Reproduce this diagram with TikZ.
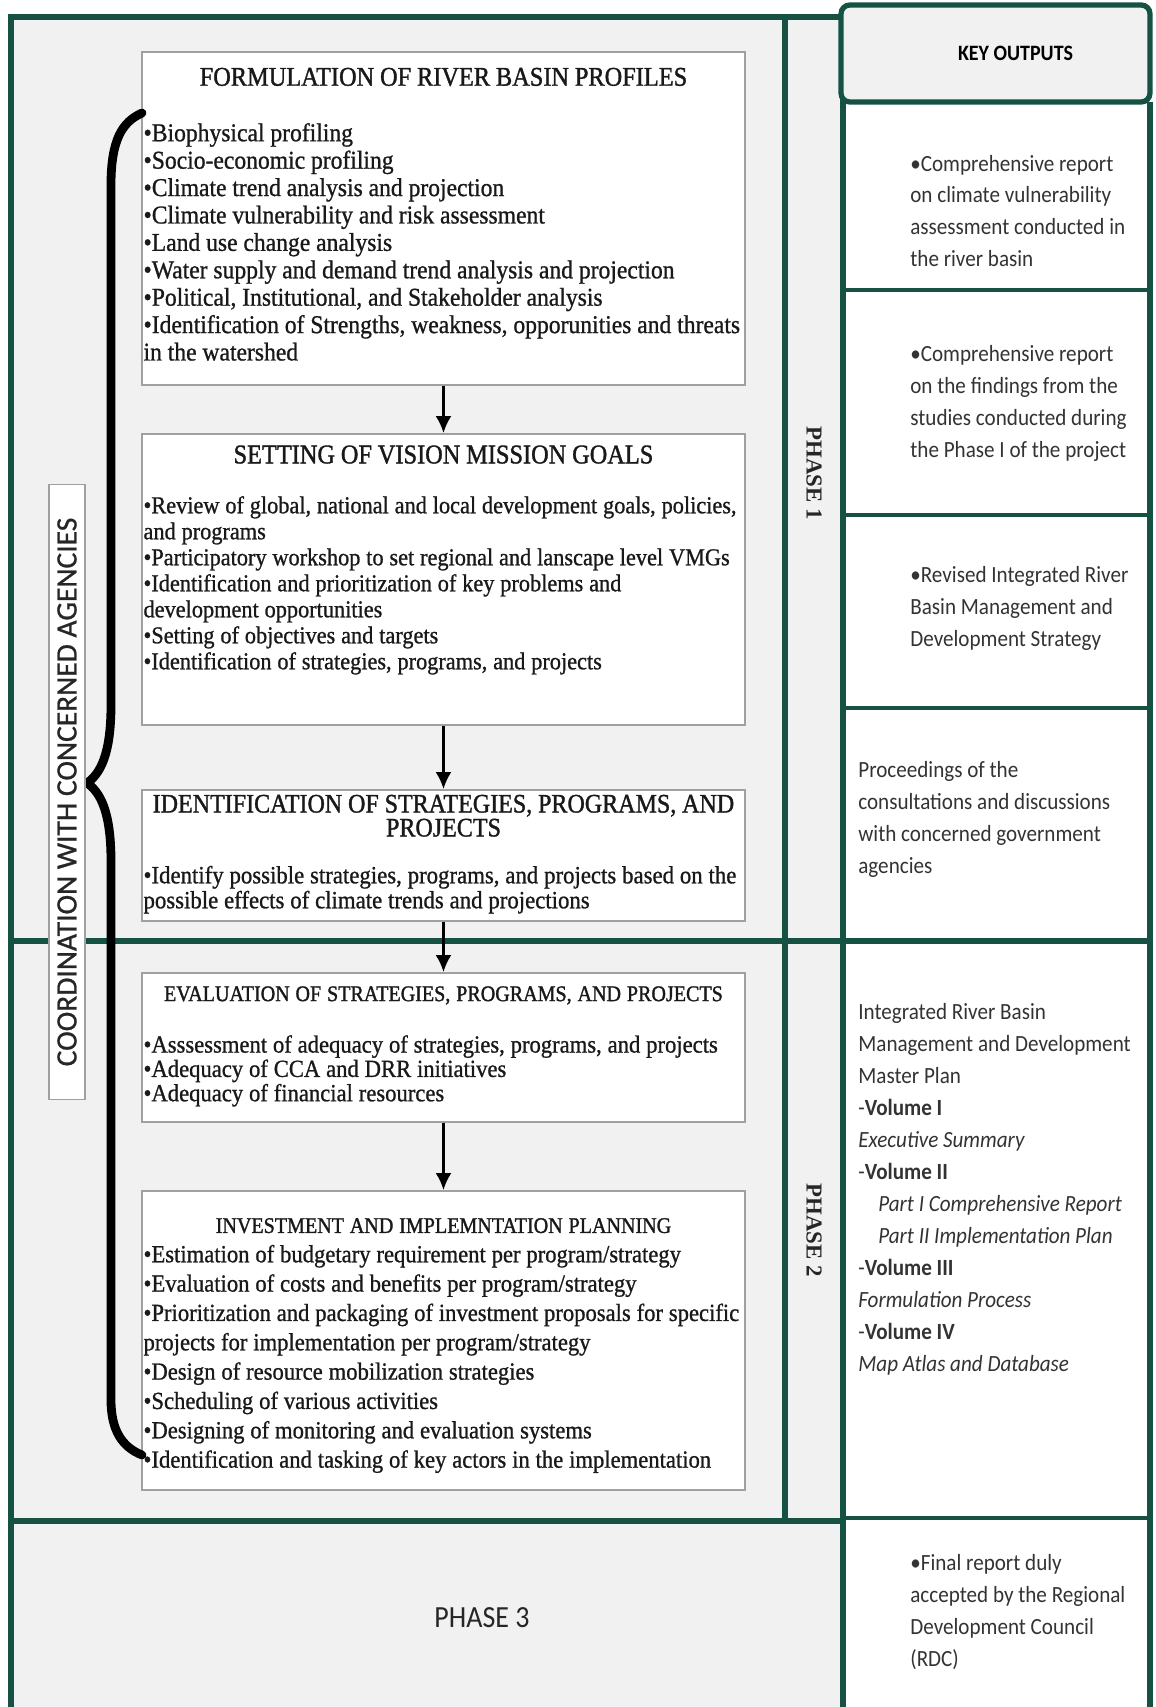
\documentclass[tikz,border=0pt]{standalone}
\usepackage{fontspec}
\usetikzlibrary{arrows.meta}
\newfontfamily\stagefont[FakeStretch=0.92, FakeBold=0.9]{Liberation Serif}
\newfontfamily\phasefont{Liberation Serif}
\newfontfamily\titlefont[FakeStretch=0.9, FakeBold=1.3]{Liberation Serif}
\newfontfamily\outfont[FakeStretch=0.91]{Carlito}
\newfontfamily\coordfont[FakeBold=0.8]{Carlito}
\definecolor{framegreen}{RGB}{22,82,68}
\definecolor{panelgray}{RGB}{241,241,241}
\definecolor{boxgray}{RGB}{160,160,160}
\setlength{\parindent}{0pt}

\begin{document}
\begin{tikzpicture}[x=0.02cm, y=-0.02cm]

    \tikzset{
      stagebox/.style={
        draw=boxgray,
        fill=white,
        line width=0.9pt,
        inner xsep=1pt,
        inner ysep=0pt,
        text width=12cm,
        text=black!90,
        anchor=north west,
      },
      outtext/.style={
        anchor=west,
        inner sep=0pt,
        align=left,
        text=black!80,
        font=\outfont\fontsize{13.2}{18.2}\selectfont,
      },
      phaselabel/.style={
        rotate=-90,
        text=black!85,
        font=\phasefont\bfseries\fontsize{13}{15}\selectfont,
      },
      frameline/.style={color=framegreen, line width=2.9pt},
      cellline/.style={color=framegreen, line width=2.2pt},
      flow/.style={color=black, line width=1.4pt, -{Latex[length=3.4mm,width=3.2mm]}},
    }
    \useasboundingbox (0,0) rectangle (1156,1707);

	\fill[panelgray] (11,17) rectangle (843,1707);
	\fill[white] (843,102) rectangle (1150,1707);
	\draw[frameline] (11,1707)--(11,17)--(843,17)--(843,1707);
	\draw[frameline] (785,17)--(785,1521);
	\draw[frameline] (11,941)--(1150,941);
	\draw[frameline] (11,1521)--(843,1521);
	\draw[frameline] (1150,102)--(1150,1707);
	\draw[cellline] (843,290)--(1150,290);
	\draw[cellline] (843,515)--(1150,515);
	\draw[cellline] (843,708)--(1150,708);
	\draw[cellline] (843,1518)--(1150,1518);

	\node[draw=framegreen, line width=3pt, rounded corners=5pt, fill=panelgray, minimum width=6.18cm, minimum height=1.94cm, font=\outfont\bfseries\fontsize{12.5}{15}\selectfont] (keyhead) at (995.5,53.5) {\hspace*{0.8cm}KEY OUTPUTS};

	\node[stagebox, minimum height=6.66cm] (profiles) at (141,51) {%
	  {\centering\titlefont\fontsize{15.4}{17}\selectfont FORMULATION OF RIVER BASIN PROFILES\par}
	  \vspace{16pt}
	  {\stagefont\fontsize{14.6}{15.6}\selectfont
	  \begin{tabular}[t]{@{}l@{}}
	  •Biophysical profiling\\
	  •Socio-economic profiling\\
	  •Climate trend analysis and projection\\
	  •Climate vulnerability and risk assessment\\
	  •Land use change analysis\\
	  •Water supply and demand trend analysis and projection\\
	  •Political, Institutional, and Stakeholder analysis\\
	  •Identification of Strengths, weakness, opporunities and threats\\
	  in the watershed
	  \end{tabular}\par}};

	\node[stagebox, minimum height=5.82cm] (vision) at (141,433) {%
	  {\centering\titlefont\fontsize{15.4}{17}\selectfont SETTING OF VISION MISSION GOALS\par}
	  \vspace{13.6pt}
	  {\stagefont\fontsize{13.8}{14.8}\selectfont
	  \begin{tabular}[t]{@{}l@{}}
	  •Review of global, national and local development goals, policies,\\
	  and programs\\
	  •Participatory workshop to set regional and lanscape level VMGs\\
	  •Identification and prioritization of key problems and\\
	  development opportunities\\
	  •Setting of objectives and targets\\
	  •Identification of strategies, programs, and projects
	  \end{tabular}\par}
	  \vspace*{0.72cm}};

	\node[stagebox, minimum height=2.62cm] (identify) at (141,789) {%
	  {\centering\titlefont\fontsize{15.2}{13.6}\selectfont IDENTIFICATION OF STRATEGIES, PROGRAMS, AND\\ PROJECTS\par}
	  \vspace{12.5pt}
	  {\stagefont\fontsize{14.1}{14.2}\selectfont
	  \begin{tabular}[t]{@{}l@{}}
	  •Identify possible strategies, programs, and projects based on the\\
	  possible effects of climate trends and projections
	  \end{tabular}\par}};

	\node[stagebox, minimum height=2.98cm] (evaluate) at (141,972) {%
	  {\centering\titlefont\fontsize{12.7}{14}\selectfont EVALUATION OF STRATEGIES, PROGRAMS, AND PROJECTS\par}
	  \vspace{16pt}
	  {\stagefont\fontsize{14}{13.3}\selectfont
	  \begin{tabular}[t]{@{}l@{}}
	  •Asssessment of adequacy of strategies, programs, and projects\\
	  •Adequacy of CCA and DRR initiatives\\
	  •Adequacy of financial resources
	  \end{tabular}\par}};

	\node[stagebox, minimum height=5.98cm] (invest) at (141,1190) {%
	  {\centering\titlefont\fontsize{12.7}{14}\selectfont INVESTMENT AND IMPLEMNTATION PLANNING\par}
	  {\stagefont\fontsize{14}{16.7}\selectfont
	  \begin{tabular}[t]{@{}l@{}}
	  •Estimation of budgetary requirement per program/strategy\\
	  •Evaluation of costs and benefits per program/strategy\\
	  •Prioritization and packaging of investment proposals for specific\\
	  projects for implementation per program/strategy\\
	  •Design of resource mobilization strategies\\
	  •Scheduling of various activities\\
	  •Designing of monitoring and evaluation systems\\
	  •Identification and tasking of key actors in the implementation
	  \end{tabular}\par}
	  \vspace*{-8pt}};

	\draw[flow] (profiles)--(vision);
	\draw[flow] (vision)--(identify);
	\draw[flow] (identify)--(evaluate);
	\draw[flow] (evaluate)--(invest);

	\draw[color=black, line width=5pt, line cap=round] (142,113) .. controls (122,122) and (111,140) .. (111,185)
	  -- (111,705) .. controls (111,755) and (100,774) .. (87,783) .. controls (100,792) and (111,811) .. (111,861)
	  -- (111,1400) .. controls (111,1430) and (122,1447) .. (142,1455);
	\node[draw=boxgray, fill=white, line width=0.9pt, rotate=90, minimum width=12.3cm, minimum height=0.72cm, inner sep=0pt, text=black!85, font=\coordfont\fontsize{16.8}{18}\selectfont] (coord) at (67,792) {COORDINATION WITH CONCERNED AGENCIES};

	\node[phaselabel] (phase1) at (814,473) {PHASE 1};
	\node[phaselabel] (phase2) at (814,1230) {PHASE 2};
	\node[text=black!85, font=\outfont\fontsize{17.5}{19}\selectfont] (phase3) at (482,1618) {PHASE 3};

	\node[outtext] (out1) at (910,211) {•Comprehensive report\\on climate vulnerability\\assessment conducted in\\the river basin};
	\node[outtext] (out2) at (910,403) {•Comprehensive report\\on the findings from the\\studies conducted during\\the Phase I of the project};
	\node[outtext] (out3) at (910,608) {•Revised Integrated River\\Basin Management and\\Development Strategy};
	\node[outtext] (out4) at (858,819) {Proceedings of the\\consultations and discussions\\with concerned government\\agencies};
	\node[outtext, anchor=north west] (out5) at (858,1003) {Integrated River Basin\\Management and Development\\Master Plan\\-\textbf{Volume I}\\\textit{Executive Summary}\\-\textbf{Volume II}\\\hspace*{0.4cm}\textit{Part I Comprehensive Report}\\\hspace*{0.4cm}\textit{Part II Implementation Plan}\\-\textbf{Volume III}\\\textit{Formulation Process}\\-\textbf{Volume IV}\\\textit{Map Atlas and Database}};
	\node[outtext] (out6) at (910,1612) {•Final report duly\\accepted by the Regional\\Development Council\\(RDC)};

\end{tikzpicture}
\end{document}
